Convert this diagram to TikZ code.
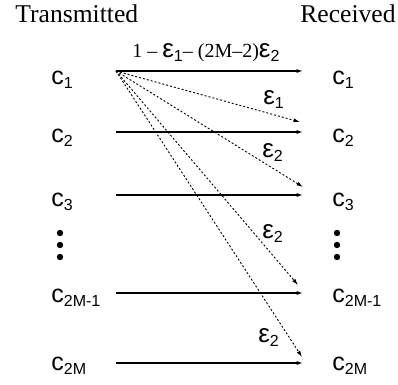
\documentclass[tikz,border=0pt]{standalone}
\usepackage{fontspec}
\setmainfont{Liberation Serif}
\setsansfont{Liberation Sans}
\usepackage{tikz}
\usetikzlibrary{arrows.meta}

\newcommand{\chan}[1]{c\raisebox{-2pt}{\fontsize{8}{8}\selectfont #1}}
\newcommand{\prob}[1]{{\sffamily\fontsize{13}{13}\selectfont ε}\raisebox{-2pt}{\sffamily\fontsize{8}{8}\selectfont #1}}

\begin{document}
\begin{tikzpicture}[
  x=0.5pt, y=-0.5pt,
  head/.style={inner sep=0pt, anchor=base west, font=\fontsize{12.8}{15}\selectfont},
  sym/.style={inner sep=0pt, anchor=base west, font=\sffamily\fontsize{12.5}{14}\selectfont},
  lab/.style={inner sep=0pt, anchor=base west, font=\fontsize{10}{12}\selectfont},
  arr/.style={-{Latex[length=3.2pt,width=2pt]}, line width=0.6pt},
  darr/.style={arr, line width=0.45pt, dash pattern=on 1pt off 1pt}]
\useasboundingbox (0,0) rectangle (398,385);
\node[head] (tx) at (15,23) {Transmitted};
\node[head] (rx) at (300,23) {Received};
% symbols on both sides
\foreach \n/\b/\s in {1/85/1, 2/143/2, 3/207/3, 4/303/2M-1, 5/371/2M} {
  \node[sym] (t\n) at (51,\b) {\chan{\s}};
  \node[sym] (r\n) at (332,\b) {\chan{\s}};
}
\foreach \y in {233,245,257} {
  \fill (60,\y) circle (1.6pt);
  \fill (337,\y) circle (1.6pt);
}
% arrow ends
\foreach \n/\y in {1/71, 2/132, 3/195, 4/293, 5/363} {
  \coordinate (s\n) at (116,\y);
  \coordinate (e\n) at (303,\y);
}
\coordinate (d2) at (300,122);
\coordinate (d3) at (303,187);
\coordinate (d4) at (298,285);
\coordinate (d5) at (302,357);
\foreach \n in {1,...,5} \draw[arr] (s\n) -- (e\n);
\foreach \n in {2,...,5} \draw[darr] (s1) -- (d\n);
% probabilities
\node[lab] (p0) at (132,58) {1 – \prob{1}– (2M–2)\prob{2}};
\node[lab] (p1) at (263,105) {\prob{1}};
\node[lab] (p2) at (262,158) {\prob{2}};
\node[lab] (p3) at (262,239) {\prob{2}};
\node[lab] (p4) at (258,343) {\prob{2}};
\end{tikzpicture}
\end{document}
